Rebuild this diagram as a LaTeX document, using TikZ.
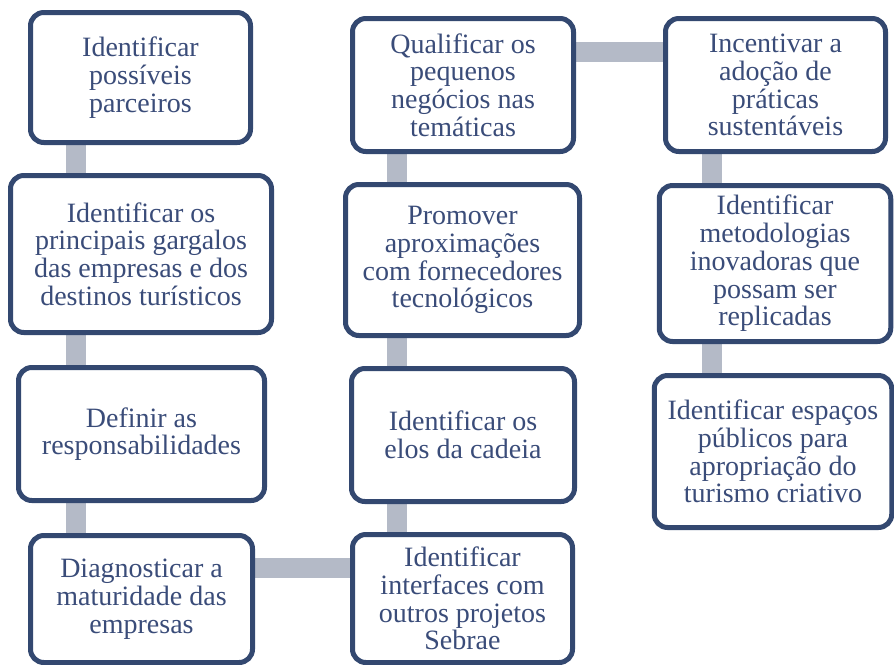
\documentclass[tikz,border=0pt]{standalone}
\usepackage{fontspec}
\setmainfont{Liberation Serif}
\usetikzlibrary{backgrounds}
\definecolor{boxline}{HTML}{334870}
\definecolor{boxtext}{HTML}{3A4C79}
\definecolor{connc}{HTML}{B4BAC7}
\tikzset{
  stepbox/.style={draw=boxline, line width=3.75pt, fill=white, rounded corners=10pt,
    align=center, text=boxtext, inner sep=0pt,
    font=\fontsize{21}{20.8}\selectfont},
  conn/.style={draw=connc, line width=15pt}
}
\newcommand{\bx}[6]{\node[stepbox, minimum width=#4*0.75pt, minimum height=#5*0.75pt] (#1) at (#2,#3) {#6};}
\begin{document}
\begin{tikzpicture}[x=0.75pt,y=-0.75pt]
\useasboundingbox (0,0) rectangle (894,665);
% column 1
\bx{b1}{140.5}{77.5}{220}{130}{Identificar\\possíveis\\parceiros}
\bx{b2}{141}{254}{261}{157}{Identificar os\\principais gargalos\\das empresas e dos\\destinos turísticos}
\bx{b3}{141.5}{434}{246}{133}{Definir as\\responsabilidades}
\bx{b4}{141.5}{599}{222}{127}{Diagnosticar a\\maturidade das\\empresas}
% column 2
\bx{c1}{463}{85}{221}{133}{Qualificar os\\pequenos\\negócios nas\\temáticas}
\bx{c2}{462.5}{260}{234}{151}{Promover\\aproximações\\com fornecedores\\tecnológicos}
\bx{c3}{463}{435}{223}{133}{Identificar os\\elos da cadeia}
\bx{c4}{462.5}{598.5}{220}{128}{Identificar\\interfaces com\\outros projetos\\Sebrae}
% column 3
\bx{d1}{775.5}{85}{220}{133}{Incentivar a\\adoção de\\práticas\\sustentáveis}
\bx{d2}{775}{263.5}{231.5}{156}{Identificar\\metodologias\\inovadoras que\\possam ser\\replicadas}
\bx{d3}{773}{451.5}{237.5}{152}{Identificar espaços\\públicos para\\apropriação do\\turismo criativo}
% connector positions
\coordinate (k1) at (76,0);
\coordinate (k2) at (397,0);
\coordinate (k3) at (711.5,0);
\coordinate (h1) at (0,568);
\coordinate (h2) at (0,52);
\begin{scope}[on background layer]
\draw[conn] (b1.south -| k1) -- (b2.north -| k1);
\draw[conn] (b2.south -| k1) -- (b3.north -| k1);
\draw[conn] (b3.south -| k1) -- (b4.north -| k1);
\draw[conn] (b4.east |- h1) -- (c4.west |- h1);
\draw[conn] (c4.north -| k2) -- (c3.south -| k2);
\draw[conn] (c3.north -| k2) -- (c2.south -| k2);
\draw[conn] (c2.north -| k2) -- (c1.south -| k2);
\draw[conn] (c1.east |- h2) -- (d1.west |- h2);
\draw[conn] (d1.south -| k3) -- (d2.north -| k3);
\draw[conn] (d2.south -| k3) -- (d3.north -| k3);
\end{scope}
\end{tikzpicture}
\end{document}
